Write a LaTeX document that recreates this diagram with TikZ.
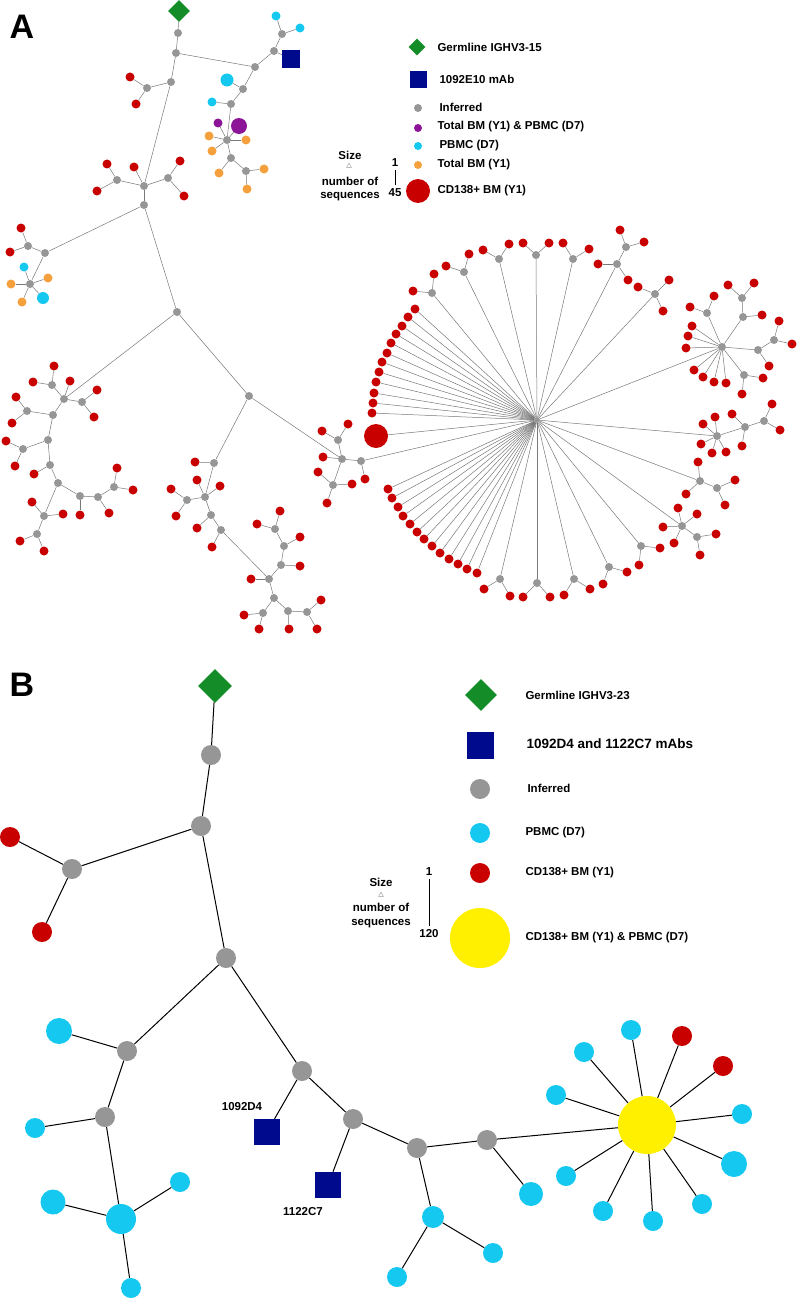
\documentclass[tikz,border=0pt]{standalone}
\usepackage{fontspec}
\setmainfont{Liberation Sans}
\usetikzlibrary{shapes.geometric}
\definecolor{rd}{RGB}{200,0,0}
\definecolor{cy}{RGB}{20,200,240}
\definecolor{og}{RGB}{245,160,60}
\definecolor{pu}{RGB}{140,20,150}
\definecolor{gy}{RGB}{150,150,150}
\definecolor{gr}{RGB}{20,140,40}
\definecolor{nv}{RGB}{0,10,140}
\definecolor{yl}{RGB}{255,240,0}
\tikzset{
  dot/.style={circle, inner sep=0pt, draw=none, minimum size=#1},
  inf/.style={dot=8pt, fill=gy},
  red/.style={dot=9pt, fill=rd},
  cyn/.style={dot=9pt, fill=cy},
  org/.style={dot=9pt, fill=og},
  edge/.style={draw=gy!80!black, line width=0.5pt},
  edgeb/.style={draw=black, line width=1pt},
  legtext/.style={font=\fontsize{11.5}{13}\selectfont\bfseries, anchor=west},
  legb/.style={font=\fontsize{11.5}{13}\selectfont\bfseries, anchor=west},
  panel/.style={font=\fontsize{34}{36}\selectfont\bfseries}
}
% named node, its links drawn with \lk
\newcommand\gn[4]{\node[#4] (#1) at (#3) {};}
\newcommand\lk[3][edge]{\draw[#1] (#2) -- (#3);}
% new node joined to a parent
\newcount\lfn
\newcommand\lf[3]{\global\advance\lfn by 1
  \node[#1] (l\the\lfn) at (#3) {};
  \draw[edge] (#2) -- (l\the\lfn);}
\newcommand\lfb[3]{\global\advance\lfn by 1
  \node[#1] (l\the\lfn) at (#3) {};
  \draw[edgeb] (#2) -- (l\the\lfn);}
\begin{document}
\begin{tikzpicture}[x=1pt, y=-1pt]
\useasboundingbox (0,0) rectangle (797,1300);

% ---------- Panel A ----------
\node[panel] at (22,27) {A};
\node[diamond, fill=gr, minimum size=22pt, inner sep=0pt] (germA) at (179,11) {};
\gn{a1}{}{178,33}{inf} \lk{germA}{a1}
\gn{a2}{}{176,53}{inf} \lk{a1}{a2}
% mAb branch
\gn{b1}{}{255,67}{inf} \lk{a2}{b1}
\gn{b2}{}{274,51}{inf} \lk{b1}{b2}
\gn{b3}{}{282,34}{inf} \lk{b2}{b3}
\lf{cyn}{b3}{276,16} \lf{cyn}{b3}{300,28}
\node[rectangle, fill=nv, minimum size=18pt, inner sep=0pt] (mabA) at (291,59) {}; \lk{b2}{mabA}
\gn{b4}{}{243,89}{inf} \lk{b1}{b4}
\lf{dot=13pt, fill=cy}{b4}{227,80}
\gn{b5}{}{231,104}{inf} \lk{b4}{b5}
\lf{cyn}{b5}{212,102}
\gn{b6}{}{227,140}{inf} \lk{b5}{b6}
\lf{dot=16pt, fill=pu}{b6}{239,126}
\lf{dot=9pt, fill=pu}{b6}{218,123}
\lf{org}{b6}{209,136} \lf{org}{b6}{246,140} \lf{org}{b6}{212,151}
\gn{b7}{}{231,158}{inf} \lk{b6}{b7}
\lf{org}{b7}{219,173}
\gn{b8}{}{246,171}{inf} \lk{b7}{b8}
\lf{org}{b8}{264,169} \lf{org}{b8}{247,189}
% left upper
\gn{c1}{}{171,82}{inf} \lk{a2}{c1}
\gn{c2}{}{147,88}{inf} \lk{c1}{c2}
\lf{red}{c2}{130,77} \lf{red}{c2}{136,104}
\gn{c3}{}{144,186}{inf} \lk{c1}{c3}
\gn{c4}{}{117,180}{inf} \lk{c3}{c4}
\lf{red}{c4}{107,164} \lf{red}{c4}{97,191}
\lf{red}{c3}{134,167}
\gn{c5}{}{168,178}{inf} \lk{c3}{c5}
\lf{red}{c5}{180,161} \lf{red}{c5}{184,196}
\gn{c6}{}{144,205}{inf} \lk{c3}{c6}
\gn{d1}{}{45,253}{inf} \lk{c6}{d1}
\gn{d2}{}{28,246}{inf} \lk{d1}{d2}
\lf{red}{d2}{21,228} \lf{red}{d2}{10,252}
\gn{d3}{}{30,284}{inf} \lk{d1}{d3}
\lf{cyn}{d3}{24,267} \lf{org}{d3}{11,284} \lf{org}{d3}{48,278}
\lf{org}{d3}{22,302} \lf{dot=12pt, fill=cy}{d3}{43,298}
\gn{e0}{}{177,312}{inf} \lk{c6}{e0}
% lower left cluster
\gn{e1}{}{64,399}{inf} \lk{e0}{e1}
\gn{e2}{}{52,385}{inf} \lk{e1}{e2}
\lf{red}{e2}{54,366} \lf{red}{e2}{33,382}
\lf{red}{e1}{70,381}
\gn{e3}{}{82,402}{inf} \lk{e1}{e3}
\lf{red}{e3}{97,390} \lf{red}{e3}{94,417}
\gn{e4}{}{53,415}{inf} \lk{e1}{e4}
\gn{e5}{}{27,411}{inf} \lk{e4}{e5}
\lf{red}{e5}{16,397} \lf{red}{e5}{12,423}
\gn{e6}{}{48,440}{inf} \lk{e4}{e6}
\gn{e7}{}{23,449}{inf} \lk{e6}{e7}
\lf{red}{e7}{6,441} \lf{red}{e7}{15,466}
\gn{e8}{}{50,465}{inf} \lk{e6}{e8}
\lf{red}{e8}{34,474}
\gn{e9}{}{58,483}{inf} \lk{e8}{e9}
\gn{e10}{}{80,496}{inf} \lk{e9}{e10}
\lf{red}{e10}{80,515}
\gn{e11}{}{98,497}{inf} \lk{e10}{e11}
\lf{red}{e11}{109,513}
\gn{e12}{}{114,487}{inf} \lk{e11}{e12}
\lf{red}{e12}{117,468} \lf{red}{e12}{133,490}
\gn{e13}{}{44,516}{inf} \lk{e9}{e13}
\lf{red}{e13}{32,502} \lf{red}{e13}{63,514}
\gn{e14}{}{37,534}{inf} \lk{e13}{e14}
\lf{red}{e14}{20,541} \lf{red}{e14}{44,551}
% middle
\gn{f0}{}{249,396}{inf} \lk{e0}{f0}
\gn{f1}{}{214,463}{inf} \lk{f0}{f1}
\lf{red}{f1}{195,462}
\gn{f2}{}{205,497}{inf} \lk{f1}{f2}
\lf{red}{f2}{197,480} \lf{red}{f2}{220,486}
\gn{f3}{}{187,500}{inf} \lk{f2}{f3}
\lf{red}{f3}{171,489} \lf{red}{f3}{176,516}
\gn{f4}{}{211,515}{inf} \lk{f2}{f4}
\lf{red}{f4}{197,528}
\gn{f5}{}{221,530}{inf} \lk{f4}{f5}
\lf{red}{f5}{212,547}
\gn{f6}{}{269,579}{inf} \lk{f5}{f6}
\lf{red}{f6}{251,579}
\gn{f7}{}{281,565}{inf} \lk{f6}{f7}
\lf{red}{f7}{300,566}
\gn{f8}{}{284,546}{inf} \lk{f7}{f8}
\lf{red}{f8}{300,537}
\gn{f9}{}{275,529}{inf} \lk{f8}{f9}
\lf{red}{f9}{257,524} \lf{red}{f9}{280,511}
\gn{f10}{}{274,598}{inf} \lk{f6}{f10}
\gn{f11}{}{263,613}{inf} \lk{f10}{f11}
\lf{red}{f11}{244,615} \lf{red}{f11}{259,629}
\gn{f12}{}{288,611}{inf} \lk{f10}{f12}
\lf{red}{f12}{289,629}
\gn{f13}{}{307,612}{inf} \lk{f12}{f13}
\lf{red}{f13}{321,600} \lf{red}{f13}{317,629}
% right of middle
\gn{g1}{}{342,459}{inf} \lk{f0}{g1}
\gn{g2}{}{338,440}{inf} \lk{g1}{g2}
\lf{red}{g2}{322,431} \lf{red}{g2}{348,424}
\lf{red}{g1}{323,457}
\gn{g3}{}{333,485}{inf} \lk{g1}{g3}
\lf{red}{g3}{318,472} \lf{red}{g3}{327,503} \lf{red}{g3}{352,484}
\gn{g4}{}{361,461}{inf} \lk{g1}{g4}
\lf{red}{g4}{365,479}
% hub
\gn{h}{}{537,420}{dot=6pt, fill=gy}
\lk{g4}{h}
\foreach \p in {{415,309},{408,317},{402,326},{396,334},{391,343},{387,353},
  {382,362},{379,372},{376,382},{374,393},{373,403},{372,413},
  {388,489},{392,498},{398,507},{403,516},{410,524},{417,532},{424,539},
  {432,546},{440,553},{449,559},{458,564},{467,569},{477,573}}
  {\lf{red}{h}{\p}}
\lf{dot=24pt, fill=rd}{h}{376,436}
% small sub-clusters around the hub
\foreach \g/\u/\v in {{432,293}/{413,291}/{434,274}, {464,272}/{446,266}/{469,254},
  {499,259}/{483,250}/{509,244}, {536,255}/{523,243}/{549,243},
  {573,259}/{563,243}/{589,249},
  {500,579}/{484,589}/{510,596}, {537,583}/{523,597}/{550,597},
  {574,579}/{564,595}/{590,589}, {609,567}/{603,584}/{627,572},
  {641,546}/{639,565}/{660,548}}
  {\lf{inf}{h}{\g} \edef\pp{l\the\lfn}\lf{red}{\pp}{\u} \lf{red}{\pp}{\v}}
\gn{k0}{}{655,294}{inf} \lk{h}{k0}
\lf{red}{k0}{669,280} \lf{red}{k0}{663,311} \lf{red}{k0}{638,287}
\gn{k1}{}{617,264}{inf} \lk{h}{k1}
\lf{red}{k1}{598,264} \lf{red}{k1}{628,280}
\gn{k2}{}{626,247}{inf} \lk{k1}{k2}
\lf{red}{k2}{620,230} \lf{red}{k2}{644,242}
% right clusters
\gn{m1}{}{722,347}{inf} \lk{h}{m1}
\foreach \p in {{692,326},{688,336},{686,348},{694,370},{703,377},{714,382},{726,383}}
  {\lf{red}{m1}{\p}}
\gn{m2}{}{707,313}{inf} \lk{m1}{m2}
\lf{red}{m2}{690,307} \lf{red}{m2}{714,296}
\gn{m3}{}{743,317}{inf} \lk{m1}{m3}
\lf{red}{m3}{762,315}
\gn{m4}{}{742,298}{inf} \lk{m3}{m4}
\lf{red}{m4}{728,285} \lf{red}{m4}{754,283}
\gn{m5}{}{758,350}{inf} \lk{m1}{m5}
\lf{red}{m5}{769,366}
\gn{m6}{}{774,340}{inf} \lk{m5}{m6}
\lf{red}{m6}{779,321} \lf{red}{m6}{792,344}
\gn{m7}{}{744,375}{inf} \lk{m1}{m7}
\lf{red}{m7}{763,378} \lf{red}{m7}{742,394}
\gn{n1}{}{717,436}{inf} \lk{h}{n1}
\foreach \p in {{703,424},{715,417},{701,444},{712,453},{726,452}}
  {\lf{red}{n1}{\p}}
\gn{n2}{}{745,427}{inf} \lk{n1}{n2}
\lf{red}{n2}{732,414} \lf{red}{n2}{742,446}
\gn{n3}{}{764,421}{inf} \lk{n2}{n3}
\lf{red}{n3}{772,404} \lf{red}{n3}{780,430}
\gn{p1}{}{700,481}{inf} \lk{h}{p1}
\lf{red}{p1}{698,462} \lf{red}{p1}{686,494}
\gn{p2}{}{717,488}{inf} \lk{p1}{p2}
\lf{red}{p2}{735,480} \lf{red}{p2}{725,505}
\gn{q1}{}{682,526}{inf} \lk{h}{q1}
\foreach \p in {{663,527},{678,508},{697,514},{674,543}}
  {\lf{red}{q1}{\p}}
\gn{q2}{}{697,537}{inf} \lk{q1}{q2}
\lf{red}{q2}{716,534} \lf{red}{q2}{700,555}

% legend A
\node[diamond, fill=gr, minimum size=17pt, inner sep=0pt] (lgA1) at (417,47) {};
\node[legtext] at (434,47) {Germline IGHV3-15};
\node[rectangle, fill=nv, minimum size=17pt, inner sep=0pt] (lgA2) at (418,80) {};
\node[legtext] at (436,79) {1092E10 mAb};
\node[inf] (lgA3) at (418,108) {}; \node[legtext] at (436,107) {Inferred};
\node[dot=8pt, fill=pu] (lgA4) at (418,128) {}; \node[legtext] at (434,127) {Total BM (Y1) \& PBMC (D7)};
\node[dot=8pt, fill=cy] (lgA5) at (418,146) {}; \node[legtext] at (436,146) {PBMC (D7)};
\node[dot=8pt, fill=og] (lgA6) at (418,165) {}; \node[legtext] at (434,165) {Total BM (Y1)};
\node[dot=24pt, fill=rd] (lgA7) at (418,191) {}; \node[legtext] at (434,191) {CD138+ BM (Y1)};
\node[legtext, anchor=center] (szA) at (350,155) {Size};
\node[regular polygon, regular polygon sides=3, draw=gy, inner sep=1pt, minimum size=5pt] at (349,166) {};
\node[legtext, anchor=center, align=center, font=\fontsize{11.5}{13}\selectfont\bfseries] at (350,189) {number of\\sequences};
\node[legtext, anchor=center] (sa1) at (395,163) {1};
\node[legtext, anchor=center] (sa2) at (395,193) {45};
\draw[line width=1pt] (sa1.south) -- (sa2.north);

% ---------- Panel B ----------
\node[panel] at (22,685) {B};
\tikzset{infb/.style={dot=20pt, fill=gy}, cyb/.style={dot=20pt, fill=cy}, rdb/.style={dot=20pt, fill=rd}}
\node[diamond, fill=gr, minimum size=34pt, inner sep=0pt] (germB) at (215,686) {};
\gn{B1}{}{211,755}{infb} \lk[edgeb]{germB}{B1}
\gn{B2}{}{201,826}{infb} \lk[edgeb]{B1}{B2}
\gn{B3}{}{72,869}{infb} \lk[edgeb]{B2}{B3}
\lfb{rdb}{B3}{10,837} \lfb{rdb}{B3}{42,932}
\gn{B4}{}{226,958}{infb} \lk[edgeb]{B2}{B4}
\gn{B5}{}{127,1051}{infb} \lk[edgeb]{B4}{B5}
\lfb{dot=26pt, fill=cy}{B5}{59,1031}
\gn{B6}{}{105,1117}{infb} \lk[edgeb]{B5}{B6}
\lfb{cyb}{B6}{35,1128}
\gn{B7}{}{121,1219}{dot=30pt, fill=cy} \lk[edgeb]{B6}{B7}
\lfb{dot=25pt, fill=cy}{B7}{53,1202} \lfb{cyb}{B7}{180,1182} \lfb{cyb}{B7}{131,1288}
\gn{B8}{}{302,1071}{infb} \lk[edgeb]{B4}{B8}
\node[rectangle, fill=nv, minimum size=26pt, inner sep=0pt] (mB1) at (267,1132) {}; \lk[edgeb]{B8}{mB1}
\gn{B9}{}{353,1119}{infb} \lk[edgeb]{B8}{B9}
\node[rectangle, fill=nv, minimum size=26pt, inner sep=0pt] (mB2) at (328,1185) {}; \lk[edgeb]{B9}{mB2}
\gn{B10}{}{417,1148}{infb} \lk[edgeb]{B9}{B10}
\gn{B11}{}{433,1217}{dot=22pt, fill=cy} \lk[edgeb]{B10}{B11}
\lfb{cyb}{B11}{397,1277} \lfb{cyb}{B11}{493,1253}
\gn{B12}{}{487,1140}{infb} \lk[edgeb]{B10}{B12}
\lfb{dot=24pt, fill=cy}{B12}{531,1194}
\gn{Y}{}{647,1125}{dot=58pt, fill=yl} \lk[edgeb]{B12}{Y}
\foreach \p in {{631,1030},{584,1052},{556,1095},{742,1114},{702,1204},{653,1221},{603,1211},{566,1176}}
  {\lfb{cyb}{Y}{\p}}
\lfb{dot=26pt, fill=cy}{Y}{734,1164}
\lfb{rdb}{Y}{682,1036} \lfb{rdb}{Y}{723,1066}
\node[legb, anchor=center] at (242,1107) {1092D4};
\node[legb, anchor=center] at (303,1212) {1122C7};

% legend B
\node[diamond, fill=gr, minimum size=32pt, inner sep=0pt] (lgB1) at (481,695) {};
\node[legb] at (522,695) {Germline IGHV3-23};
\node[rectangle, fill=nv, minimum size=27pt, inner sep=0pt] (lgB2) at (480,745) {};
\node[legb, font=\fontsize{13.5}{15}\selectfont\bfseries] at (523,744) {1092D4 and 1122C7 mAbs};
\node[infb] (lgB3) at (480,789) {}; \node[legb] at (524,788) {Inferred};
\node[cyb] (lgB4) at (480,833) {}; \node[legb] at (522,833) {PBMC (D7)};
\node[rdb] (lgB5) at (480,873) {}; \node[legb] at (522,873) {CD138+ BM (Y1)};
\node[dot=60pt, fill=yl] (lgB6) at (480,938) {}; \node[legb] at (522,938) {CD138+ BM (Y1) \& PBMC (D7)};
\node[legb, anchor=center] at (381,882) {Size};
\node[regular polygon, regular polygon sides=3, draw=gy, inner sep=1pt, minimum size=5pt] at (381,895) {};
\node[legb, anchor=center, align=center, font=\fontsize{11.5}{14}\selectfont\bfseries] at (381,916) {number of\\sequences};
\node[legb, anchor=center] (sb1) at (429,872) {1};
\node[legb, anchor=center] (sb2) at (429,934) {120};
\draw[line width=1pt] (sb1.south) -- (sb2.north);
\end{tikzpicture}
\end{document}
